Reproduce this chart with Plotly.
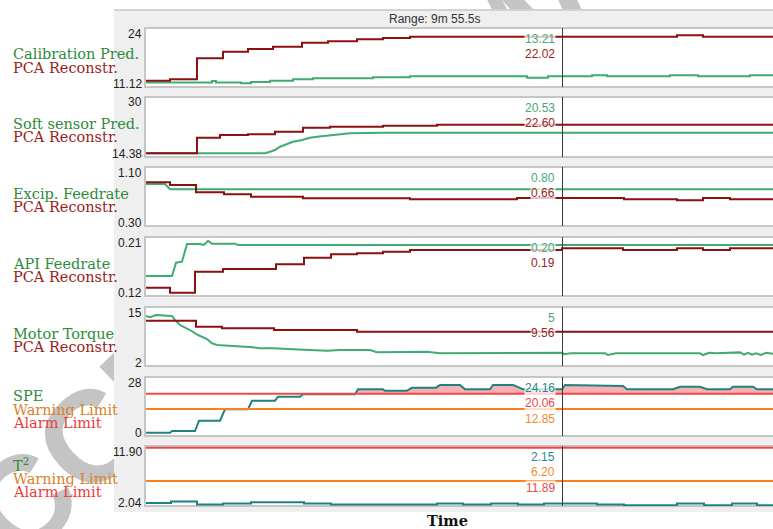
import plotly.graph_objects as go
import numpy as np

W, H = 773, 529

# ---------------- data ----------------
t_range = [0, 627]          # visible time window
cursor_t = 416.5            # cursor position
range_label = "Range: 9m 55.5s"
watermark = "ACCEPTED MANUSCRIPT"

# panel 1: calibration prediction vs PCA reconstruction
calib_t = [0, 66, 70, 95, 105, 124, 147, 167, 227, 264, 381, 402, 446, 461, 524, 552, 604, 627]
calib_v = [12.10, 12.43, 12.10, 11.93, 12.21, 12.50, 12.80, 13.03, 13.24, 13.46, 13.16, 13.46, 13.67, 13.46, 13.67, 13.46, 13.67, 13.67]
calib_pca_t = [0, 24, 51, 77, 102, 127, 156, 182, 211, 237, 264, 531, 557, 627]
calib_pca_v = [12.50, 12.80, 17.39, 18.83, 19.42, 19.92, 20.79, 21.10, 21.53, 21.82, 22.10, 22.41, 22.10, 22.10]

# panel 2: soft sensor prediction vs PCA reconstruction
soft_t = [0, 119, 124, 129, 134, 141, 147, 156, 164, 171, 181, 191, 204, 237, 627]
soft_v = [15.34, 15.34, 15.76, 16.20, 17.06, 17.76, 18.36, 18.80, 19.40, 19.66, 19.92, 20.11, 20.55, 20.71, 20.71]
soft_pca_t = [0, 51, 74, 102, 129, 157, 184, 237, 291, 627]
soft_pca_v = [15.34, 19.40, 20.11, 20.29, 20.97, 22.01, 22.27, 22.53, 22.79, 22.79]

# panel 3: excipient feedrate
excip_t = [0, 19, 24, 627]
excip_v = [0.870, 0.870, 0.800, 0.800]
excip_pca_t = [0, 24, 50, 78, 105, 157, 264, 371, 478, 531, 557, 584, 627]
excip_pca_v = [0.893, 0.856, 0.757, 0.730, 0.697, 0.676, 0.662, 0.679, 0.662, 0.649, 0.679, 0.662, 0.662]

# panel 4: API feedrate
api_t = [0, 26, 30, 36, 41, 54, 58, 62, 66, 89, 92, 627]
api_v = [0.1505, 0.1505, 0.1708, 0.1723, 0.1993, 0.1993, 0.1978, 0.2043, 0.1998, 0.1998, 0.1978, 0.1978]
api_pca_t = [0, 24, 49, 77, 130, 158, 185, 211, 237, 264, 416, 477, 531, 557, 584, 627]
api_pca_v = [0.1327, 0.1250, 0.1571, 0.1612, 0.1683, 0.1784, 0.1836, 0.1851, 0.1876, 0.1902, 0.1927, 0.1902, 0.1927, 0.1902, 0.1927, 0.1927]

# panel 5: motor torque
torque_t = [0, 4, 10, 26, 29, 34, 44, 52, 61, 66, 71, 84, 94, 107, 114, 127, 147, 181, 194, 224, 231, 281,
            294, 341, 361, 416, 418, 425, 459, 462, 470, 554, 557, 563, 570, 594, 598, 602, 606, 610, 615, 620, 627]
torque_v = [13.02, 12.73, 13.24, 13.02, 12.13, 11.03, 9.93, 8.83, 7.95, 7.00, 6.63, 6.47, 6.25, 6.12, 5.90, 5.90,
            5.68, 5.37, 5.52, 5.52, 5.02, 5.15, 4.80, 4.80, 4.93, 4.93, 4.58, 4.80, 4.80, 4.42, 4.80, 4.80, 4.42,
            4.93, 4.80, 5.00, 4.50, 4.90, 4.50, 4.80, 4.45, 4.90, 4.70]
torque_pca_t = [0, 50, 76, 128, 211, 627]
torque_pca_v = [11.98, 10.66, 10.31, 9.93, 9.56, 9.56]

# panel 6: SPE
spe_t = [0, 24, 26, 49, 53, 74, 79, 102, 106, 129, 132, 154, 157, 209, 212, 237, 239, 261, 266, 290, 294, 314,
         319, 344, 347, 367, 371, 377, 416, 419, 477, 481, 527, 534, 554, 561, 584, 587, 607, 611, 627]
spe_v = [1.57, 1.57, 2.37, 2.37, 7.26, 7.26, 12.67, 12.67, 16.75, 16.75, 18.65, 18.65, 19.8, 19.8, 22.16, 22.16,
         21.5, 21.5, 22.92, 22.92, 24.2, 24.2, 22.16, 22.16, 24.2, 24.2, 23.4, 22.16, 22.16, 24.2, 23.73, 22.16,
         22.16, 23.4, 23.4, 22.16, 22.16, 23.4, 23.4, 22.16, 22.16]
spe_warning = 12.85
spe_alarm = 20.06

# panel 7: T^2
t2_t = [0, 25, 51, 77, 105, 158, 185, 291, 317, 345, 372, 398, 451, 478, 531, 558, 586, 611, 627]
t2_v = [2.48, 2.70, 2.20, 2.37, 2.58, 2.37, 2.20, 2.37, 2.20, 2.37, 2.20, 2.37, 2.20, 2.09, 2.37, 2.09, 2.37, 2.09, 2.09]
t2_warning = 6.20
t2_alarm = 11.89

# axis extremes (tick labels) per panel
tick_hi = ["24", "30", "1.10", "0.21", "15", "28", "11.90"]
tick_lo = ["11.12", "14.38", "0.30", "0.12", "2", "0", "2.04"]
y_ranges = [[11.12, 24], [14.38, 30], [0.30, 1.10], [0.12, 0.21], [2, 15], [0, 28], [1.95, 12.2]]

# left-hand labels per panel
left_labels = [
    [("Calibration Pred.", "green"), ("PCA Reconstr.", "red")],
    [("Soft sensor Pred.", "green"), ("PCA Reconstr.", "red")],
    [("Excip. Feedrate", "green"), ("PCA Reconstr.", "red")],
    [("API Feedrate", "green"), ("PCA Reconstr.", "red")],
    [("Motor Torque", "green"), ("PCA Reconstr.", "red")],
    [("SPE", "green"), ("Warning Limit", "orange"), ("Alarm Limit", "alarm")],
    [("T<sup>2</sup>", "green"), ("Warning Limit", "orange"), ("Alarm Limit", "alarm")],
]
# cursor readouts per panel
readouts = [
    [("13.21", "vgreen"), ("22.02", "vred")],
    [("20.53", "vgreen"), ("22.60", "vred")],
    [("0.80", "vgreen"), ("0.66", "vred")],
    [("0.20", "vgreen"), ("0.19", "vred")],
    [("5", "vgreen"), ("9.56", "vred")],
    [("24.16", "vteal"), ("20.06", "valarm"), ("12.85", "vorange")],
    [("2.15", "vteal"), ("6.20", "vorange"), ("11.89", "valarm")],
]

# ---------------- styles ----------------
C = dict(
    gline="#40ab72", rline="#8b1010", teal="#1f8282", orange="#ff7f1e", alarm="#f04848",
    green="#2e8b3a", red="#9b1c1c", orange_l="#d9822b", alarm_l="#ec3b3b",
    vgreen="#4aa876", vred="#9b2222", vteal="#2a8a8a", valarm="#e84a4a", vorange="#f08a30",
)
label_color = {"green": C["green"], "red": C["red"], "orange": C["orange_l"], "alarm": C["alarm_l"]}

panel_top = [28, 97, 167, 237, 307, 377, 446]
panel_bot = [87, 157, 226, 296, 366, 436, 506]
X0 = 146
SANS = "Liberation Sans, Arial, sans-serif"
SERIF = "DejaVu Serif, serif"


def py(p):
    return 1 - p / H


def px(p):
    return p / W


fig = go.Figure()


def add_line(i, x, y, color, shape="linear", **kw):
    sfx = "" if i == 0 else str(i + 1)
    fig.add_trace(go.Scatter(x=x, y=y, xaxis="x" + sfx, yaxis="y" + sfx, mode="lines",
                             line=dict(color=color, width=2, shape=shape), hoverinfo="skip",
                             showlegend=False, **kw))


add_line(0, calib_t, calib_v, C["gline"], "hv")
add_line(0, calib_pca_t, calib_pca_v, C["rline"], "hv")
add_line(1, soft_t, soft_v, C["gline"])
add_line(1, soft_pca_t, soft_pca_v, C["rline"], "hv")
add_line(2, excip_t, excip_v, C["gline"])
add_line(2, excip_pca_t, excip_pca_v, C["rline"], "hv")
add_line(3, api_t, api_v, C["gline"])
add_line(3, api_pca_t, api_pca_v, C["rline"], "hv")
add_line(4, torque_t, torque_v, C["gline"])
add_line(4, torque_pca_t, torque_pca_v, C["rline"], "hv")

# SPE exceedance fill
fig.add_trace(go.Scatter(x=spe_t, y=[spe_alarm] * len(spe_t), xaxis="x6", yaxis="y6", mode="lines",
                         line=dict(width=0), hoverinfo="skip", showlegend=False))
fig.add_trace(go.Scatter(x=spe_t, y=np.maximum(np.array(spe_v), spe_alarm), xaxis="x6", yaxis="y6",
                         mode="lines", line=dict(width=0), fill="tonexty",
                         fillcolor="rgba(246,150,150,0.75)", hoverinfo="skip", showlegend=False))
add_line(5, spe_t, spe_v, C["teal"])
add_line(5, t_range, [spe_warning] * 2, C["orange"])
add_line(5, t_range, [spe_alarm] * 2, C["alarm"])

add_line(6, t_range, [t2_alarm] * 2, C["alarm"])
add_line(6, t_range, [t2_warning] * 2, C["orange"])
add_line(6, t2_t, t2_v, C["teal"], "hv")

layout = dict(width=W, height=H, margin=dict(l=0, r=0, t=0, b=0), paper_bgcolor="white",
              plot_bgcolor="rgba(0,0,0,0)", showlegend=False, hovermode=False)
for i in range(7):
    sfx = "" if i == 0 else str(i + 1)
    layout["xaxis" + sfx] = dict(domain=[px(X0), 1], range=t_range, visible=False, anchor="y" + sfx,
                                 fixedrange=True)
    layout["yaxis" + sfx] = dict(domain=[py(panel_bot[i]), py(panel_top[i])], range=y_ranges[i],
                                 visible=False, anchor="x" + sfx, fixedrange=True)
fig.update_layout(**layout)

# ---------------- shapes ----------------
shapes = [
    # page watermark (sits behind the chart widget)
    dict(type="rect", xref="paper", yref="paper", x0=px(490), x1=px(500), y0=py(35), y1=py(25),
         fillcolor="rgba(0,0,0,0)", line=dict(width=0), layer="below",
         label=dict(text="<b>" + watermark + "</b>", textangle=-44, textposition="middle center",
                    font=dict(family="Liberation Sans, Arial, sans-serif", size=130, color="#c4c4c4"))),
    dict(type="rect", xref="paper", yref="paper", x0=px(114), x1=1.02, y0=py(512), y1=py(10),
         fillcolor="#efefef", line=dict(width=0), layer="below"),
    dict(type="line", xref="paper", yref="paper", x0=px(114), x1=1.02, y0=py(10), y1=py(10),
         line=dict(color="#d2d2d2", width=2), layer="below"),
]
for i in range(7):
    shapes.append(dict(type="rect", xref="paper", yref="paper", x0=px(X0 - 1), x1=1.02,
                       y0=py(panel_bot[i]), y1=py(panel_top[i]), fillcolor="white",
                       line=dict(color="#c6c6c6", width=2), layer="below"))
    sfx = "" if i == 0 else str(i + 1)
    shapes.append(dict(type="line", xref="x" + sfx, yref="paper", x0=cursor_t, x1=cursor_t,
                       y0=py(panel_bot[i]), y1=py(panel_top[i]), line=dict(color="#3a3a3a", width=1),
                       layer="above"))
fig.update_layout(shapes=shapes)

# ---------------- annotations ----------------
ann = []
ann.append(dict(text=range_label, x=px(435), y=py(19), xref="paper", yref="paper", showarrow=False,
                font=dict(family=SANS, size=12, color="#333333"), xanchor="center", yanchor="middle"))
for i in range(7):
    ann.append(dict(text=tick_hi[i], x=px(144), y=py(panel_top[i] + 5.5), xref="paper", yref="paper",
                    showarrow=False, xanchor="right", yanchor="middle",
                    font=dict(family=SANS, size=12, color="#222222")))
    ann.append(dict(text=tick_lo[i], x=px(144), y=py(panel_bot[i] - 3.5), xref="paper", yref="paper",
                    showarrow=False, xanchor="right", yanchor="middle",
                    font=dict(family=SANS, size=12, color="#222222")))
    # left labels
    n = len(left_labels[i])
    if n == 2:
        ys = [panel_top[i] + 26.5, panel_top[i] + 40]
    else:
        ys = [panel_top[i] + 19, panel_top[i] + 32.5, panel_top[i] + 46]
    for (txt, col), yy in zip(left_labels[i], ys):
        ann.append(dict(text=txt, x=px(11), y=py(yy), xref="paper", yref="paper", showarrow=False,
                        xanchor="left", yanchor="middle",
                        font=dict(family=SERIF, size=14.5, color=label_color[col])))
    # cursor readouts
    sfx = "" if i == 0 else str(i + 1)
    for k, (txt, col) in enumerate(readouts[i]):
        ann.append(dict(text=txt, x=cursor_t, xref="x" + sfx, y=py(panel_top[i] + 10.5 + 15.7 * k),
                        yref="paper", showarrow=False, xanchor="right", yanchor="middle", xshift=-7,
                        bgcolor="rgba(255,255,255,0.75)", borderpad=0,
                        font=dict(family=SANS, size=12, color=C[col])))
ann.append(dict(text="<b>Time</b>", x=px(447), y=py(520), xref="paper", yref="paper", showarrow=False,
                xanchor="center", yanchor="middle", font=dict(family=SERIF, size=14.5, color="#111111")))
fig.update_layout(annotations=ann)

fig.write_html("out.html")
